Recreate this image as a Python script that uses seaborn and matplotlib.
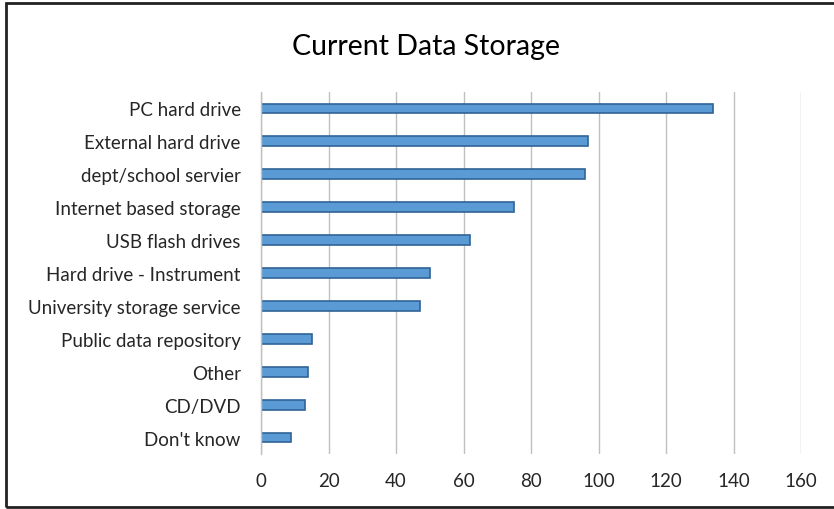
import matplotlib.pyplot as plt
import seaborn as sns
import pandas as pd
from matplotlib.patches import Rectangle

categories = ["PC hard drive", "External hard drive", "dept/school servier",
              "Internet based storage", "USB flash drives", "Hard drive - Instrument",
              "University storage service", "Public data repository", "Other",
              "CD/DVD", "Don't know"]
counts = [134, 97, 96, 75, 62, 50, 47, 15, 14, 13, 9]
x_ticks = [0, 20, 40, 60, 80, 100, 120, 140, 160]

df = pd.DataFrame({"storage": categories, "count": counts})

sns.set_style("white")
plt.rcParams['font.family'] = ['Lato', 'DejaVu Sans']

fig = plt.figure(figsize=(8.34, 5.1), dpi=100)
ax = fig.add_axes([261 / 834, 1 - 455 / 510, 540 / 834, 362 / 510])

sns.barplot(data=df, x="count", y="storage", orient="h", ax=ax,
            color="#5b9bd5", edgecolor="#2f6396", linewidth=1.2,
            width=0.3, saturation=1)

ax.set_xlim(0, 160)
ax.set_ylim(10.5, -0.5)
ax.set_xticks(x_ticks)
ax.xaxis.grid(True, color="#c0c0c0", linewidth=1)
ax.set_axisbelow(True)
ax.tick_params(axis="both", length=0, labelsize=13.5, colors="#262626")
ax.tick_params(axis="x", pad=13)
ax.tick_params(axis="y", pad=14.5)
ax.set_xlabel("")
ax.set_ylabel("")
for s in ["top", "right", "bottom"]:
    ax.spines[s].set_visible(False)
ax.spines["left"].set_color("#c0c0c0")
ax.spines["left"].set_linewidth(1)

fig.text(426 / 834, 1 - 47 / 510, "Current Data Storage", ha="center", va="center",
         fontsize=20.5, color="#000000")

# outer chart frame
fig.patches.append(Rectangle((6 / 834, 2 / 510), 1.2, 1 - 6 / 510,
                             transform=fig.transFigure, fill=False,
                             edgecolor="#222222", linewidth=2))

fig.savefig("out.png", dpi=100)
